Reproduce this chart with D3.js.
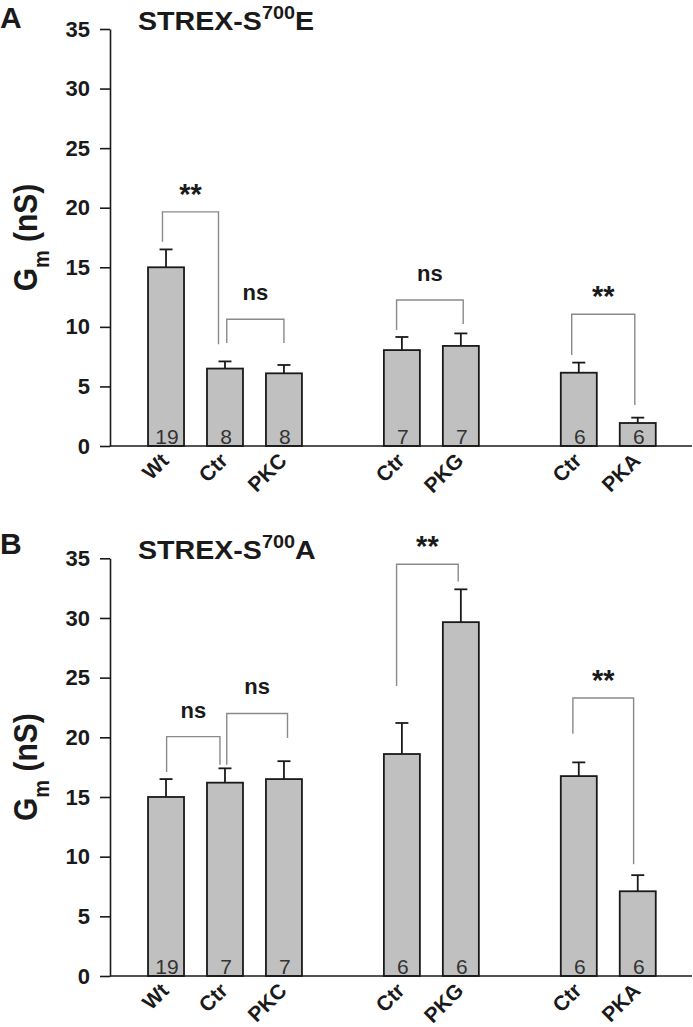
<!DOCTYPE html>
<html>
<head>
<meta charset="utf-8">
<script src="https://cdn.jsdelivr.net/npm/d3@7"></script>
<style>
  html, body { margin: 0; padding: 0; background: #fff; }
  svg { display: block; font-family: "Liberation Sans", Arial, Helvetica, sans-serif; }
</style>
</head>
<body>
<svg id="chart" width="693" height="1027"></svg>
<script>
// ---------------- DATA ----------------
const categories = ["Wt", "Ctr", "PKC", "Ctr", "PKG", "Ctr", "PKA"];
const slotIndex  = [0, 1, 2, 4, 5, 7, 8];          // grouping (gaps between groups)
const yTicks     = [0, 5, 10, 15, 20, 25, 30, 35];

const titleA = "STREX-S", supA = "700", endA = "E";
const valuesA = [15.0, 6.5, 6.1, 8.05, 8.4, 6.15, 1.93];
const errA    = [1.5, 0.6, 0.7, 1.1, 1.05, 0.85, 0.45];
const nA      = [19, 8, 8, 7, 7, 6, 6];
const bracketsA = [
  { from: -0.06, to: 0.89, level: 19.65, endL: 17.15, endR: 8.55, label: "**" },
  { from: 1.03,  to: 2.0,  level: 10.64, endL: 8.65,  endR: 8.65, label: "ns" },
  { from: 3.91,  to: 5.04, level: 12.26, endL: 9.74,  endR: 10.24, label: "ns" },
  { from: 6.88,  to: 7.95, level: 11.06, endL: 7.64,  endR: 3.44, label: "**" }
];

const titleB = "STREX-S", supB = "700", endB = "A";
const valuesB = [15.0, 16.2, 16.5, 18.6, 29.65, 16.75, 7.1];
const errB    = [1.5, 1.2, 1.5, 2.6, 2.75, 1.15, 1.35];
const nB      = [19, 7, 7, 6, 6, 6, 6];
const bracketsB = [
  { from: 0.01, to: 0.915, level: 20.06, endL: 17.1, endR: 17.7, label: "ns" },
  { from: 1.03, to: 2.06,  level: 22.0,  endL: 17.7, endR: 19.95, label: "ns" },
  { from: 3.91, to: 4.955, level: 34.5,  endL: 24.3, endR: 33.05, label: "**" },
  { from: 6.9,  to: 7.93,  level: 23.3,  endL: 20.3, endR: 9.36, label: "**" }
];

// ---------------- DRAW ----------------
const svg = d3.select("#chart");
const x = d3.scaleLinear().domain([-0.95, 8.92]).range([110, 692]);
const barW = 36;
const ink = "#1a1a1a";

function panel(cfg) {
  const y = d3.scaleLinear().domain([0, 35]).range([cfg.y0, cfg.y35]);
  const g = svg.append("g");

  // panel letter
  g.append("text").attr("x", 0).attr("y", cfg.letterY)
    .attr("font-size", 30).attr("font-weight", "bold").attr("fill", ink)
    .text(cfg.letter);

  // title
  const t = g.append("text").attr("x", 0).attr("y", 0)
    .attr("font-size", 26).attr("font-weight", "bold").attr("fill", ink)
    .attr("transform", `translate(138,${cfg.y35 + 1}) scale(1.1,1)`);
  t.append("tspan").text(cfg.title);
  t.append("tspan").attr("font-size", 18).attr("dy", -11).text(cfg.sup);
  t.append("tspan").attr("dy", 11).text(cfg.end);

  // y axis label
  const ymid = (cfg.y0 + cfg.y35) / 2;
  const yl = g.append("text")
    .attr("transform", `translate(37,${ymid}) scale(1.1,1) rotate(-90)`)
    .attr("text-anchor", "middle")
    .attr("font-size", 30).attr("font-weight", "bold").attr("fill", ink);
  yl.append("tspan").text("G");
  yl.append("tspan").attr("font-size", 20).attr("dy", 11).text("m");
  yl.append("tspan").attr("dy", -11).text("\u00a0(nS)");

  // y axis
  const yAxis = d3.axisLeft(y).tickValues(yTicks).tickSize(10).tickPadding(10).tickSizeOuter(0);
  const ya = g.append("g").attr("transform", "translate(110,0)").call(yAxis);
  ya.select(".domain").attr("stroke", ink).attr("stroke-width", 1.6);
  ya.selectAll(".tick line").attr("stroke", ink).attr("stroke-width", 1.6);
  ya.selectAll(".tick text").attr("font-size", 22).attr("font-weight", "bold")
    .attr("fill", ink).attr("font-family", "Liberation Sans, Arial, sans-serif");

  // bars
  const data = categories.map((c, i) => ({ c, s: slotIndex[i], v: cfg.values[i], e: cfg.err[i], n: cfg.n[i] }));

  // error bars (upper only)
  g.selectAll(".err").data(data).enter().append("line")
    .attr("x1", d => x(d.s)).attr("x2", d => x(d.s))
    .attr("y1", d => y(d.v)).attr("y2", d => y(d.v + d.e))
    .attr("stroke", ink).attr("stroke-width", 1.8);
  g.selectAll(".cap").data(data).enter().append("line")
    .attr("x1", d => x(d.s) - 6.5).attr("x2", d => x(d.s) + 6.5)
    .attr("y1", d => y(d.v + d.e)).attr("y2", d => y(d.v + d.e))
    .attr("stroke", ink).attr("stroke-width", 1.8);

  g.selectAll(".bar").data(data).enter().append("rect")
    .attr("x", d => x(d.s) - barW / 2).attr("width", barW)
    .attr("y", d => y(d.v)).attr("height", d => y(0) - y(d.v))
    .attr("fill", "#c0c0c0").attr("stroke", ink).attr("stroke-width", 1.8);

  // n labels
  g.selectAll(".nlab").data(data).enter().append("text")
    .attr("x", d => x(d.s) + 1).attr("y", y(0) - 2)
    .attr("text-anchor", "middle").attr("font-size", 21).attr("fill", "#333")
    .text(d => d.n);

  // x axis line
  g.append("line").attr("x1", 110).attr("x2", 692).attr("y1", y(0)).attr("y2", y(0))
    .attr("stroke", ink).attr("stroke-width", 1.6);

  // x labels
  g.selectAll(".xlab").data(data).enter().append("text")
    .attr("transform", d => `translate(${x(d.s) + 4},${y(0) + 16}) rotate(-45)`)
    .attr("text-anchor", "end").attr("font-size", 21).attr("font-weight", "bold")
    .attr("fill", ink).text(d => d.c);

  // brackets
  cfg.brackets.forEach(b => {
    const path = d3.path();
    path.moveTo(x(b.from), y(b.endL));
    path.lineTo(x(b.from), y(b.level));
    path.lineTo(x(b.to), y(b.level));
    path.lineTo(x(b.to), y(b.endR));
    g.append("path").attr("d", path.toString()).attr("fill", "none")
      .attr("stroke", "#8a8a8a").attr("stroke-width", 1.4);
    const cx = (x(b.from) + x(b.to)) / 2;
    const isStar = b.label === "**";
    g.append("text").attr("x", cx)
      .attr("y", y(b.level) - (isStar ? 8 : 19))
      .attr("text-anchor", "middle")
      .attr("font-size", isStar ? 29 : 22).attr("font-weight", "bold").attr("fill", ink)
      .text(b.label);
  });
}

panel({ letter: "A", letterY: 28, title: titleA, sup: supA, end: endA,
        values: valuesA, err: errA, n: nA, brackets: bracketsA, y0: 446, y35: 29 });
panel({ letter: "B", letterY: 554, title: titleB, sup: supB, end: endB,
        values: valuesB, err: errB, n: nB, brackets: bracketsB, y0: 976, y35: 558.3 });
</script>
</body>
</html>
